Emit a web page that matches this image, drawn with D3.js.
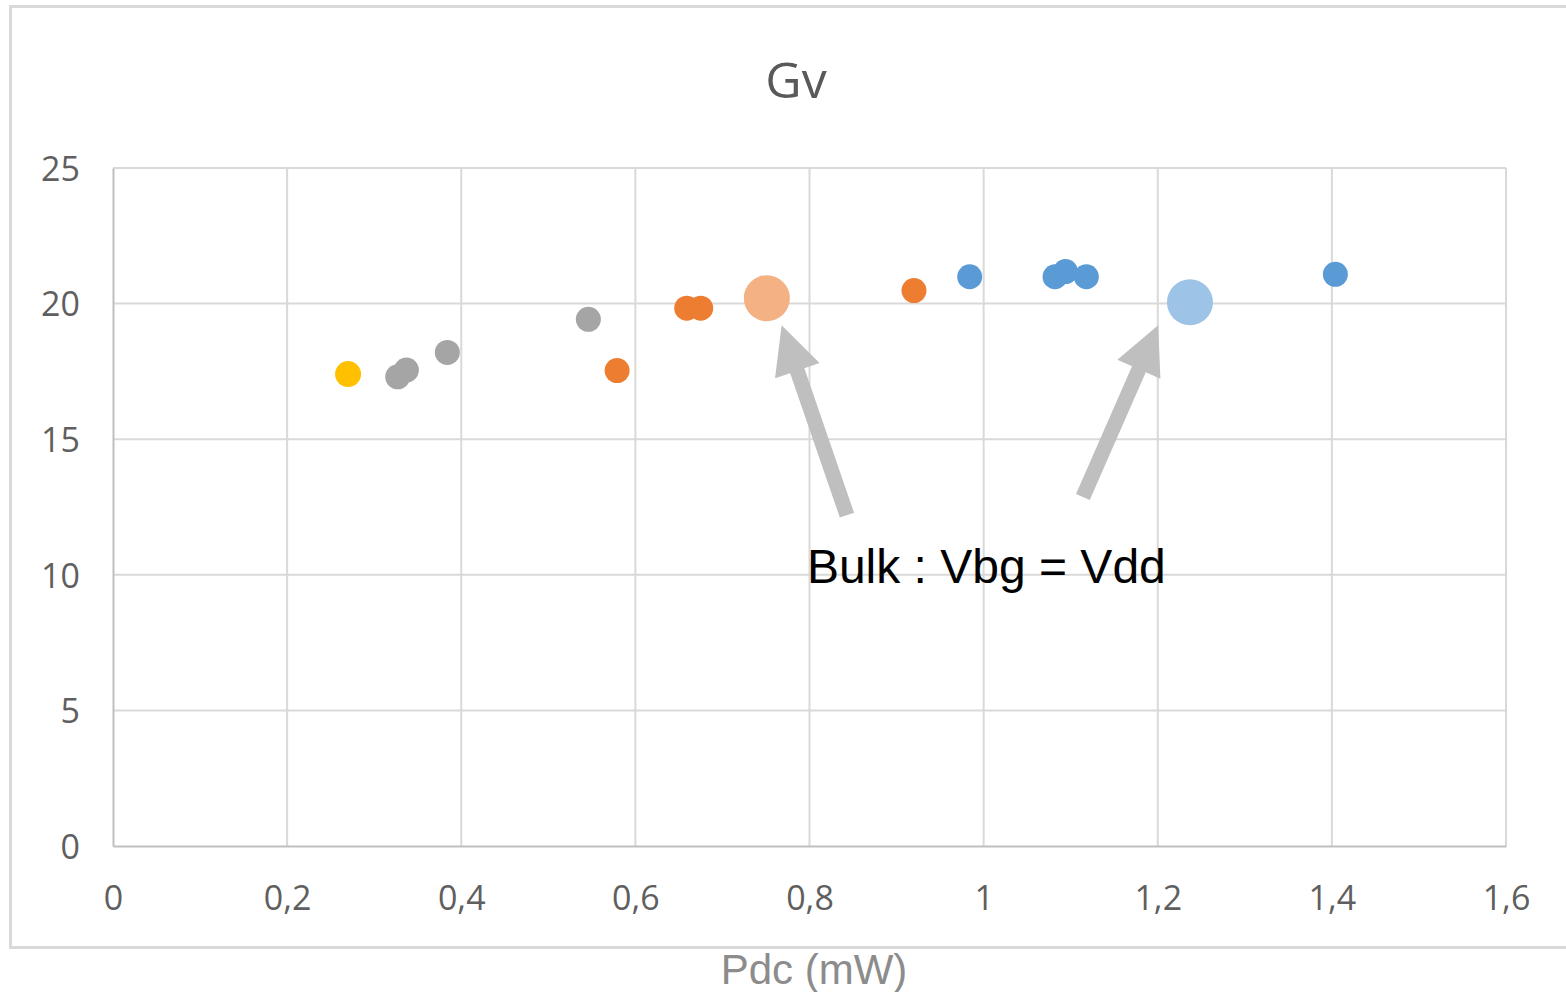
<!DOCTYPE html>
<html>
<head>
<meta charset="utf-8">
<script src="https://cdn.jsdelivr.net/npm/d3@7/dist/d3.min.js"></script>
<style>
  html, body { margin: 0; padding: 0; background: #fff; }
  svg { display: block; }
</style>
</head>
<body>
<svg id="chart" width="1566" height="992"></svg>
<script>
// ---- Data ----
const chartTitle = "Gv";
const xAxisTitle = "Pdc (mW)";
const annotationText = "Bulk : Vbg = Vdd";
const xTicks = [0, 0.2, 0.4, 0.6, 0.8, 1, 1.2, 1.4, 1.6];
const yTicks = [0, 5, 10, 15, 20, 25];

const yellowX = [0.27];
const yellowY = [17.4];
const grayX = [0.327, 0.337, 0.384, 0.546];
const grayY = [17.3, 17.55, 18.2, 19.42];
const orangeX = [0.579, 0.659, 0.675, 0.92];
const orangeY = [17.53, 19.83, 19.83, 20.48];
const lightOrangeX = [0.751];
const lightOrangeY = [20.2];
const blueX = [0.984, 1.082, 1.094, 1.118, 1.404];
const blueY = [20.99, 20.99, 21.18, 20.99, 21.08];
const lightBlueX = [1.237];
const lightBlueY = [20.05];

// annotation arrows: [tailX, tailY, tipX, tipY] in data units
const arrowTails = [[0.843, 12.2], [1.114, 12.87]];
const arrowTips = [[0.768, 19.2], [1.2005, 19.2]];
const annotationPos = [0.797, 9.7];

// ---- Chart ----
const svg = d3.select("#chart");
const x = d3.scaleLinear().domain([0, 1.6]).range([113, 1506]);
const y = d3.scaleLinear().domain([0, 25]).range([846, 168]);

// outer border
svg.append("rect").attr("x", 10.5).attr("y", 6.5).attr("width", 1600).attr("height", 941)
  .attr("fill", "#fff").attr("stroke", "#d9d9d9").attr("stroke-width", 3);

// gridlines
const grid = svg.append("g");
grid.selectAll("line.h").data(yTicks.filter(d => d > 0)).join("line")
  .attr("x1", x(0)).attr("x2", x(1.6)).attr("y1", d => y(d)).attr("y2", d => y(d))
  .attr("stroke", "#d9d9d9").attr("stroke-width", 2);
grid.selectAll("line.v").data(xTicks.filter(d => d > 0)).join("line")
  .attr("y1", y(0)).attr("y2", y(25)).attr("x1", d => x(d)).attr("x2", d => x(d))
  .attr("stroke", "#d9d9d9").attr("stroke-width", 2);

// axes
const xAxis = d3.axisBottom(x).tickValues(xTicks).tickSize(0).tickPadding(0)
  .tickFormat(d => String(d).replace(".", ","));
const gx = svg.append("g").attr("transform", `translate(0,${y(0)})`).call(xAxis);
gx.select(".domain").attr("stroke", "#bfbfbf").attr("stroke-width", 2);
gx.selectAll("text").attr("dy", null).attr("y", 64)
  .attr("font-family", "Open Sans").attr("font-size", 34).attr("fill", "#5f5f5f");

const yAxis = d3.axisLeft(y).tickValues(yTicks).tickSize(0).tickPadding(0);
const gy = svg.append("g").attr("transform", `translate(${x(0)},0)`).call(yAxis);
gy.select(".domain").attr("stroke", "#bfbfbf").attr("stroke-width", 2);
gy.selectAll("text").attr("x", -33).attr("dy", "0.36em")
  .attr("font-family", "Open Sans").attr("font-size", 34).attr("fill", "#5f5f5f");

// title
svg.append("text").attr("x", 796).attr("y", 98).attr("text-anchor", "middle")
  .attr("font-family", "Open Sans").attr("font-size", 50).attr("fill", "#595959").text(chartTitle);

// x axis title
svg.append("text").attr("x", 814).attr("y", 984).attr("text-anchor", "middle")
  .attr("font-family", "Liberation Sans, Arial").attr("font-size", 42).attr("fill", "#8c8c8c").text(xAxisTitle);

// points
const series = [
  { xs: yellowX, ys: yellowY, color: "#FFC000", r: 13 },
  { xs: grayX, ys: grayY, color: "#A5A5A5", r: 12.5 },
  { xs: orangeX, ys: orangeY, color: "#ED7D31", r: 12.5 },
  { xs: lightOrangeX, ys: lightOrangeY, color: "#F4B183", r: 23 },
  { xs: blueX, ys: blueY, color: "#5B9BD5", r: 12.5 },
  { xs: lightBlueX, ys: lightBlueY, color: "#9DC3E6", r: 23 }
];
series.forEach(s => {
  const pts = s.xs.map((v, i) => [v, s.ys[i]]);
  svg.append("g").selectAll("circle").data(pts).join("circle")
    .attr("cx", d => x(d[0])).attr("cy", d => y(d[1])).attr("r", s.r).attr("fill", s.color);
});

// arrows
function arrowPath(t, h) {
  const x0 = x(t[0]), y0 = y(t[1]), x1 = x(h[0]), y1 = y(h[1]);
  const dx = x1 - x0, dy = y1 - y0, L = Math.hypot(dx, dy);
  const ux = dx / L, uy = dy / L, nx = -uy, ny = ux;
  const sw = 7.5, hw = 23.5, hl = 48;
  const bx = x1 - ux * hl, by = y1 - uy * hl;
  const p = [
    [x0 + nx * sw, y0 + ny * sw], [bx + nx * sw, by + ny * sw], [bx + nx * hw, by + ny * hw],
    [x1, y1], [bx - nx * hw, by - ny * hw], [bx - nx * sw, by - ny * sw], [x0 - nx * sw, y0 - ny * sw]
  ];
  return "M" + p.map(q => q.join(",")).join("L") + "Z";
}
svg.append("g").selectAll("path").data(arrowTails.map((t, i) => [t, arrowTips[i]])).join("path")
  .attr("d", d => arrowPath(d[0], d[1])).attr("fill", "#bfbfbf");

// annotation text
svg.append("text").attr("x", x(annotationPos[0])).attr("y", y(annotationPos[1]))
  .attr("font-family", "Liberation Sans, Arial").attr("font-size", 48).attr("fill", "#000").text(annotationText);
</script>
</body>
</html>
